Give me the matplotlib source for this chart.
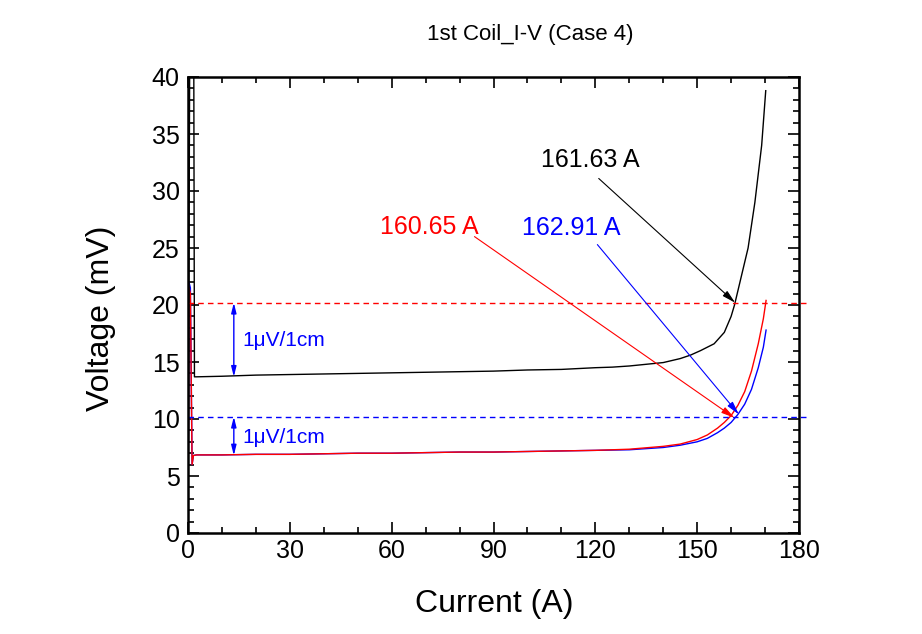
import numpy as np
import matplotlib.pyplot as plt
from matplotlib.ticker import MultipleLocator

# Data
cur_black = [0, 0.5, 0.7, 1.7, 1.9, 2.5, 10, 20, 30, 40, 50, 60, 70, 80, 90, 100, 110,
             120, 125, 130, 135, 140, 145, 148, 151, 155, 158, 160, 161, 163, 165, 167,
             169, 170.2]
v_black = [0, 42, 42, 42, 13.7, 13.7, 13.75, 13.85, 13.9, 13.95, 14.0, 14.05, 14.1,
           14.15, 14.2, 14.3, 14.35, 14.5, 14.55, 14.65, 14.8, 14.95, 15.3, 15.6, 16.0,
           16.6, 17.6, 19.0, 20.0, 22.5, 25.0, 29.0, 34.0, 38.8]

cur_red = [0, 0.3, 0.7, 1.2, 1.6, 2.5, 10, 20, 30, 40, 50, 60, 70, 80, 90, 100, 110,
           120, 130, 140, 145, 150, 153, 156, 158, 160, 162, 164, 166, 168, 169.5, 170.3]
v_red = [0, 21.5, 21.0, 6.0, 6.8, 6.85, 6.85, 6.9, 6.9, 6.95, 7.0, 7.0, 7.05, 7.1, 7.1,
         7.15, 7.2, 7.25, 7.35, 7.6, 7.8, 8.2, 8.6, 9.2, 9.7, 10.3, 11.2, 12.4, 14.2,
         16.6, 18.8, 20.4]

cur_blue = [0, 0.3, 0.7, 1.2, 1.6, 2.5, 10, 20, 30, 40, 50, 60, 70, 80, 90, 100, 110,
            120, 130, 140, 145, 150, 153, 156, 158, 160, 162, 164, 166, 168, 169.5, 170.3]
v_blue = [0, 22.0, 21.5, 6.0, 6.8, 6.85, 6.85, 6.9, 6.9, 6.95, 7.0, 7.0, 7.05, 7.1, 7.1,
          7.15, 7.2, 7.25, 7.3, 7.5, 7.7, 8.0, 8.3, 8.8, 9.2, 9.7, 10.4, 11.3, 12.6,
          14.5, 16.3, 17.8]

# criterion levels (1 uV/cm)
base_black = 13.7
base_red = 6.8
crit_black = 20.2
crit_red = 10.2

# critical currents: label, text pos, arrow tail, arrow head, colour
labels = ['161.63 A', '160.65 A', '162.91 A']
label_xy = [(118.5, 32.7), (71.0, 26.8), (113.0, 26.75)]
arrow_tail = [(121.0, 31.1), (84.4, 26.0), (120.6, 25.3)]
arrow_head = [(161.2, 20.2), (161.0, 10.1), (162.3, 10.4)]
label_colors = ['black', 'red', 'blue']

plt.rcParams['font.family'] = ['Liberation Sans', 'DejaVu Sans']

fig = plt.figure(figsize=(9.22, 6.34), dpi=100)
ax = fig.add_axes([188 / 922, 101 / 634, 611 / 922, 456 / 634])

ax.plot(cur_blue, v_blue, color='blue', lw=1.0)
ax.plot(cur_red, v_red, color='red', lw=1.0)
ax.plot(cur_black, v_black, color='black', lw=1.0)

# dashed criterion lines
ax.plot([0, 182], [crit_black, crit_black], color='red', lw=1.0, ls=(0, (4, 3)), clip_on=False)
ax.plot([0, 182], [crit_red, crit_red], color='blue', lw=1.0, ls=(0, (4, 3)), clip_on=False)

# 1uV/1cm markers
dbl = dict(arrowstyle='<|-|>,head_width=0.15,head_length=0.6', color='blue', lw=1.0,
           shrinkA=0, shrinkB=0)
ax.annotate('', xy=(13.5, crit_black), xytext=(13.5, base_black), arrowprops=dbl)
ax.annotate('', xy=(13.5, crit_red), xytext=(13.5, base_red), arrowprops=dbl)
ax.text(16, 16.9, '1μV/1cm', color='blue', fontsize=15, va='center', ha='left')
ax.text(16, 8.4, '1μV/1cm', color='blue', fontsize=15, va='center', ha='left')

for lab, pos, tail, head, col in zip(labels, label_xy, arrow_tail, arrow_head, label_colors):
    ax.text(pos[0], pos[1], lab, color=col, fontsize=18, ha='center', va='center')
    ax.annotate('', xy=head, xytext=tail,
                arrowprops=dict(arrowstyle='-|>,head_width=0.2,head_length=0.8',
                                color=col, lw=0.8, shrinkA=0, shrinkB=0))

ax.set_xlim(0, 180)
ax.set_ylim(0, 40)
ax.xaxis.set_major_locator(MultipleLocator(30))
ax.xaxis.set_minor_locator(MultipleLocator(10))
ax.yaxis.set_major_locator(MultipleLocator(5))
ax.yaxis.set_minor_locator(MultipleLocator(1))
ax.tick_params(which='both', direction='in', top=True, right=True, width=1.2,
               labelsize=18)
ax.tick_params(which='major', length=8)
ax.tick_params(which='minor', length=4)
ax.tick_params(axis='x', pad=4)
ax.tick_params(axis='y', pad=6)
for sp in ax.spines.values():
    sp.set_linewidth(1.8)

ax.set_xlabel('Current (A)', fontsize=23)
ax.set_ylabel('Voltage (mV)', fontsize=23)
ax.xaxis.set_label_coords(0.502, -0.122)
ax.yaxis.set_label_coords(-0.118, 0.47)

fig.text(0.575, 0.945, '1st Coil_I-V (Case 4)', fontsize=16, ha='center', va='center')

fig.savefig('out.png', dpi=100)
